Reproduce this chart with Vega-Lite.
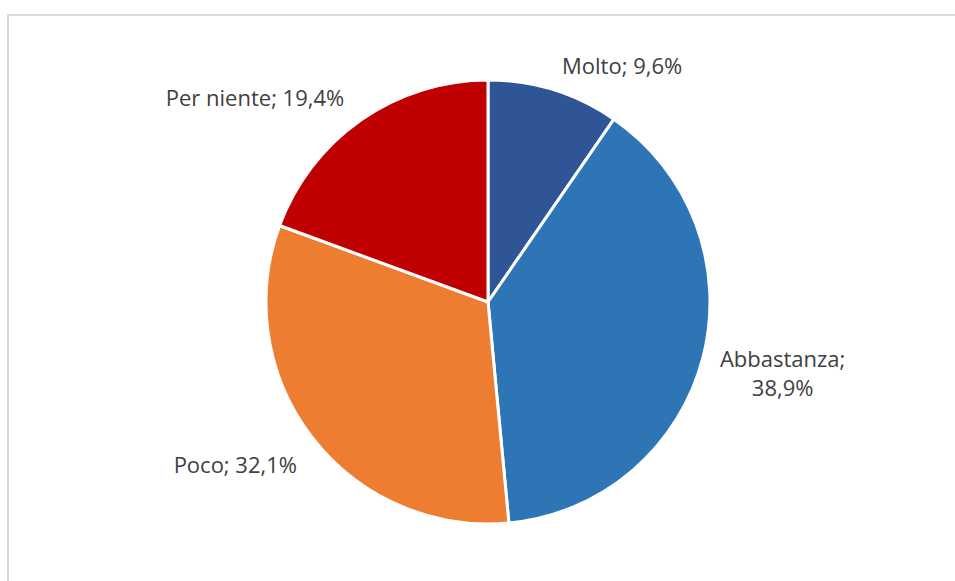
{
  "$schema": "https://vega.github.io/schema/vega-lite/v6.json",
  "autosize": {"type": "none"},
  "width": 960,
  "height": 574,
  "padding": {"left": 8, "top": 15, "right": 0, "bottom": 0},
  "background": "white",
  "view": {"stroke": "#d9d9d9", "strokeWidth": 2},
  "data": {
    "values": [
      {"k": 1, "categoria": "Molto", "valore": 9.6, "etichetta": "Molto; 9,6%"},
      {"k": 2, "categoria": "Abbastanza", "valore": 38.9, "etichetta": "Abbastanza;\n38,9%"},
      {"k": 3, "categoria": "Poco", "valore": 32.1, "etichetta": "Poco; 32,1%"},
      {"k": 4, "categoria": "Per niente", "valore": 19.4, "etichetta": "Per niente; 19,4%"}
    ]
  },
  "encoding": {
    "theta": {"field": "valore", "type": "quantitative", "stack": true},
    "order": {"field": "k", "type": "quantitative"}
  },
  "layer": [
    {
      "mark": {"type": "arc", "outerRadius": 222, "stroke": "white", "strokeWidth": 3},
      "encoding": {
        "color": {
          "field": "categoria",
          "type": "nominal",
          "scale": {
            "domain": ["Molto", "Abbastanza", "Poco", "Per niente"],
            "range": ["#2F5597", "#2E75B6", "#ED7D31", "#C00000"]
          },
          "legend": null
        }
      }
    },
    {
      "mark": {"type": "text", "radius": 290, "dx": 48, "dy": 42, "font": "Open Sans", "fontSize": 22, "color": "#404040"},
      "encoding": {"text": {"condition": {"test": "datum.categoria === 'Molto'", "field": "etichetta"}, "value": ""}}
    },
    {
      "mark": {"type": "text", "radius": 290, "dx": 14, "dy": -15, "font": "Open Sans", "fontSize": 22, "color": "#404040", "lineBreak": "\n", "lineHeight": 29},
      "encoding": {"text": {"condition": {"test": "datum.categoria === 'Abbastanza'", "field": "etichetta"}, "value": ""}}
    },
    {
      "mark": {"type": "text", "radius": 290, "dx": -23, "dy": -13, "font": "Open Sans", "fontSize": 22, "color": "#404040"},
      "encoding": {"text": {"condition": {"test": "datum.categoria === 'Poco'", "field": "etichetta"}, "value": ""}}
    },
    {
      "mark": {"type": "text", "radius": 290, "dx": -67, "dy": 35, "font": "Open Sans", "fontSize": 22, "color": "#404040"},
      "encoding": {"text": {"condition": {"test": "datum.categoria === 'Per niente'", "field": "etichetta"}, "value": ""}}
    }
  ]
}
